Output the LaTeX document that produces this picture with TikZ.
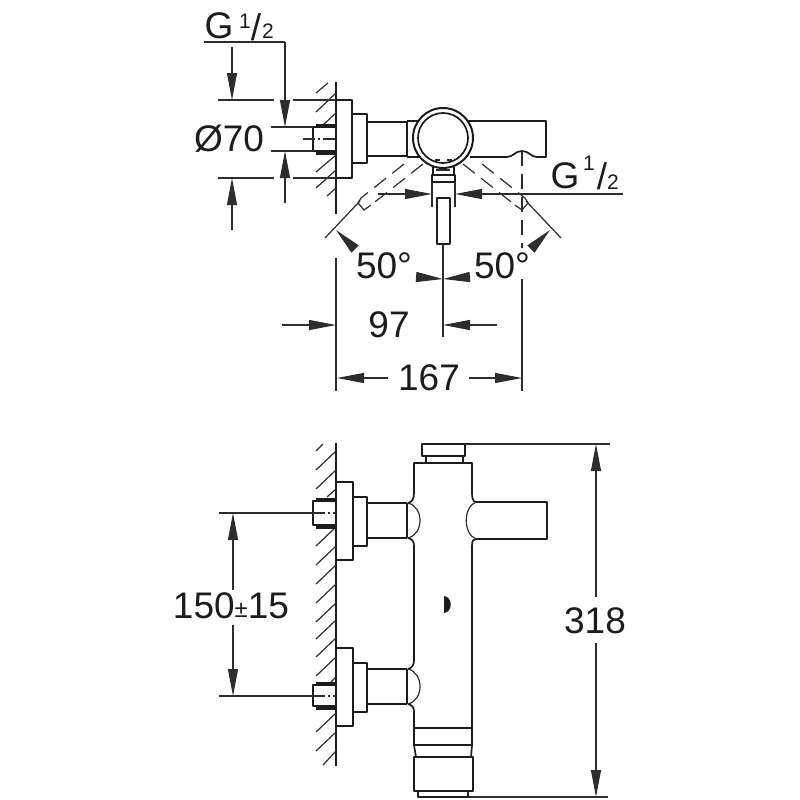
\documentclass[tikz,border=0pt]{standalone}
\usepackage{fontspec}
\setmainfont{Liberation Sans}
\usetikzlibrary{arrows.meta, positioning}
\definecolor{inkColor}{RGB}{28, 28, 28}
\definecolor{dimColor}{RGB}{45, 45, 45}
\tikzset{
  partline/.style={draw=inkColor, line width=1.7pt, line join=round},
  heavyline/.style={draw=inkColor, line width=3pt},
  thinline/.style={draw=dimColor, line width=1.2pt},
  hiddenline/.style={draw=dimColor, line width=1.2pt, dash pattern=on 15pt off 8pt},
  axisline/.style={draw=dimColor, line width=1.2pt, dash pattern=on 12pt off 3pt on 2pt off 3pt},
  dimarrow/.style={draw=dimColor, line width=1.2pt, -{Triangle[length=27pt,width=10pt]}},
  bigtext/.style={text=inkColor, inner sep=0pt, font=\fontsize{37}{40}\selectfont},
  smalltext/.style={text=inkColor, inner sep=0pt, font=\fontsize{21}{23}\selectfont},
}
\begin{document}
\begin{tikzpicture}[x=1pt, y=-1pt]
  \useasboundingbox (0,0) rectangle (800,800);

  % Top view: wall and hatching
  \draw[partline, line width=1.3pt] (336,82) -- (336,214);
  \foreach \ya/\xb/\yb in {93/316/112, 113/323/125, 155/316/172, 170/316/188, 188/327/196}
    \draw[thinline] (336,\ya) -- (\xb,\yb);
  \draw[thinline] (328,83) -- (316,93);

  % Top view: connection with flange
  \draw[partline] (336,100) -- (352,100) -- (352,178) -- (336,178);
  \draw[partline] (352,114) -- (367,114) -- (367,163) -- (352,163);
  \draw[partline] (367,122) -- (406,122);
  \draw[partline] (367,156) -- (406,156);
  \draw[partline] (336,127) -- (313,127) -- (313,151) -- (336,151);
  \draw[heavyline] (316,125) -- (336,125);
  \draw[heavyline] (316,153) -- (336,153);
  \draw[axisline] (303,139) -- (336,139);

  % Top view: body and spout
  \draw[heavyline, line width=2pt] (407,121) -- (407,157);
  \draw[partline] (407,121) -- (422,121);
  \draw[partline] (407,157) -- (422,157);
  \draw[partline] (464,121) -- (546,121) -- (546,157) -- (537,157)
    .. controls (531,157) and (529,151) .. (522,151)
    .. controls (515,151) and (513,157) .. (507,157) -- (470,157);
  \draw[partline, fill=white, line width=2pt] (443,138) circle [radius=30];
  \draw[partline] (443,138) circle [radius=25];
  \draw[thinline] (435,160) -- (440,160) (447,160) -- (452,160);

  % Top view: outlet
  \draw[partline] (433,167) -- (433,174) (454,167) -- (454,174);
  \draw[thinline] (436,170) -- (450,170);
  \draw[partline] (432,175) rectangle (455,182);
  \draw[thinline] (432,182) -- (432,207) (455,182) -- (455,207);
  \draw[partline] (437,198) rectangle (450,244);

  % Top view: swivel range
  \draw[hiddenline] (463,164) -- (515,205);
  \draw[hiddenline] (482,164) -- (525,198);
  \draw[hiddenline] (423,164) -- (371,205);
  \draw[hiddenline] (404,164) -- (361,198);
  \draw[thinline] (515,205) -- (522,210) -- (528,203) -- (525,198);
  \draw[thinline] (371,205) -- (364,210) -- (358,203) -- (361,198);
  \draw[thinline] (526,201) -- (561,238);
  \draw[thinline] (360,201) -- (325,238);
  \draw[hiddenline] (522,151) -- (522,248);
  \draw[thinline] (522,279) -- (522,391);
  \draw[thinline] (336,258) -- (336,391);
  \draw[thinline] (443,244) -- (443,337);

  % Top view: dimensions
  \draw[thinline] (204,42) -- (285,42);
  \draw[dimarrow] (285,42) -- (285,127);
  \draw[dimarrow] (285,203) -- (285,151);
  \draw[dimarrow] (232,47) -- (232,100);
  \draw[dimarrow] (232,230) -- (232,178);
  \draw[thinline] (218,100) -- (274,100) (293,100) -- (336,100);
  \draw[thinline] (218,178) -- (274,178) (293,178) -- (336,178);
  \draw[thinline] (271,127) -- (313,127) (271,151) -- (313,151);
  \draw[thinline] (482,194) -- (623,194);
  \draw[dimarrow] (482,194) -- (455,194);
  \draw[dimarrow] (378,194) -- (432,194);
  \draw[dimarrow] (532,248) -- (550,230);
  \draw[dimarrow] (354,248) -- (336,230);
  \draw[dimarrow] (416,277) -- (443,279);
  \draw[dimarrow] (470,277) -- (443,279);
  \draw[dimarrow] (282,325) -- (336,325);
  \draw[dimarrow] (497,325) -- (443,325);
  \draw[dimarrow] (388,378) -- (337,378);
  \draw[dimarrow] (469,378) -- (522,378);

  % Top view: labels
  \node[bigtext] (topthread) at (219,26) {G};
  \node[smalltext] (topone) at (245,21) {1};
  \node[bigtext] (topslash) at (256,27) {/};
  \node[smalltext] (toptwo) at (268,31) {2};
  \node[bigtext] (diameter) at (229,139) {Ø70};
  \node[bigtext] (sidethread) at (565,176) {G};
  \node[smalltext] (sideone) at (589,163) {1};
  \node[bigtext] (sideslash) at (602,176) {/};
  \node[smalltext] (sidetwo) at (613,182) {2};
  \node[bigtext] (angleleft) at (384,266) {50°};
  \node[bigtext] (angleright) at (502,266) {50°};
  \node[bigtext] (reach) at (389,325) {97};
  \node[bigtext] (width) at (429,378) {167};

  % Front view: wall and hatching
  \draw[partline, line width=1.3pt] (336,443) -- (336,766);
  \draw[thinline] (323,444) -- (316,451);
  \foreach \ya in {451,470,527,546,565,584,603,620,638,657,713,732}
    \draw[thinline] (336,\ya) -- (316,\ya+19);
  \draw[thinline] (336,489) -- (327,497);
  \draw[thinline] (336,677) -- (331,682);
  \draw[thinline] (336,751) -- (323,765);

  % Front view: connections
  \foreach \yc in {0,166} {
    \draw[partline] (336,482+\yc) -- (353,482+\yc) -- (353,560+\yc) -- (336,560+\yc);
    \draw[partline] (353,497+\yc) -- (367,497+\yc) -- (367,546+\yc) -- (353,546+\yc);
    \draw[partline, line width=1.3pt] (367,503+\yc) -- (407,503+\yc);
    \draw[partline, line width=1.3pt] (367,538+\yc) -- (407,538+\yc);
    \draw[heavyline, line width=2.4pt] (407,503+\yc) -- (407,538+\yc);
    \draw[thinline] (408,503+\yc) .. controls (424,507+\yc) and (424,534+\yc) .. (408,538+\yc);
  }
  \foreach \ytop/\ylow in {501/525, 685/706} {
    \draw[partline] (336,\ytop) -- (313,\ytop) -- (313,\ylow) -- (336,\ylow);
    \draw[heavyline] (316,\ytop-2) -- (336,\ytop-2);
    \draw[heavyline] (316,\ylow+2) -- (336,\ylow+2);
  }
  \draw[axisline] (313,513) -- (336,513);
  \draw[axisline] (313,696) -- (336,696);

  % Front view: body
  \draw[partline] (422,444) rectangle (465,456);
  \draw[partline] (426,456) -- (426,463) (463,456) -- (463,463);
  \draw[partline] (414,493) -- (414,463) -- (472,463) -- (472,493)
    .. controls (472,498) and (473,502) .. (476,502) -- (547,502) -- (547,539) -- (476,539)
    .. controls (473,539) and (472,541) .. (472,546) -- (472,745) -- (471,757);
  \draw[thinline] (476,502) .. controls (463,507) and (463,534) .. (476,539);
  \draw[partline] (414,493) .. controls (414,499) and (412,502) .. (408,503);
  \draw[partline] (408,538) .. controls (412,539) and (414,541) .. (414,546) -- (414,660)
    .. controls (414,665) and (412,668) .. (408,669);
  \draw[partline] (408,704) .. controls (412,705) and (414,707) .. (414,712) -- (414,745) -- (416,757);
  \draw[partline, line width=1.3pt] (414,728) -- (472,728);
  \draw[partline, line width=1.3pt] (414,745) -- (472,745);
  \draw[partline, line width=2.2pt] (414,757) -- (473,757) -- (473,791) -- (414,791) -- cycle;
  \draw[partline] (418,791) -- (418,797) -- (468,797) -- (468,791);
  \fill[inkColor] (444,596) .. controls (453,597) and (453,612) .. (444,613) -- cycle;

  % Front view: dimensions
  \draw[thinline] (465,444) -- (610,444);
  \draw[thinline] (468,797) -- (608,797);
  \draw[dimarrow] (596,597) -- (596,444);
  \draw[dimarrow] (596,643) -- (596,797);
  \draw[thinline] (219,513) -- (313,513);
  \draw[thinline] (219,696) -- (313,696);
  \draw[dimarrow] (233,590) -- (233,513);
  \draw[dimarrow] (233,625) -- (233,696);

  % Front view: labels
  \node[bigtext] (spacing) at (231,606) {150\raisebox{1pt}{\fontsize{24}{26}\selectfont ±}15};
  \node[bigtext] (height) at (595,621) {318};
\end{tikzpicture}
\end{document}
